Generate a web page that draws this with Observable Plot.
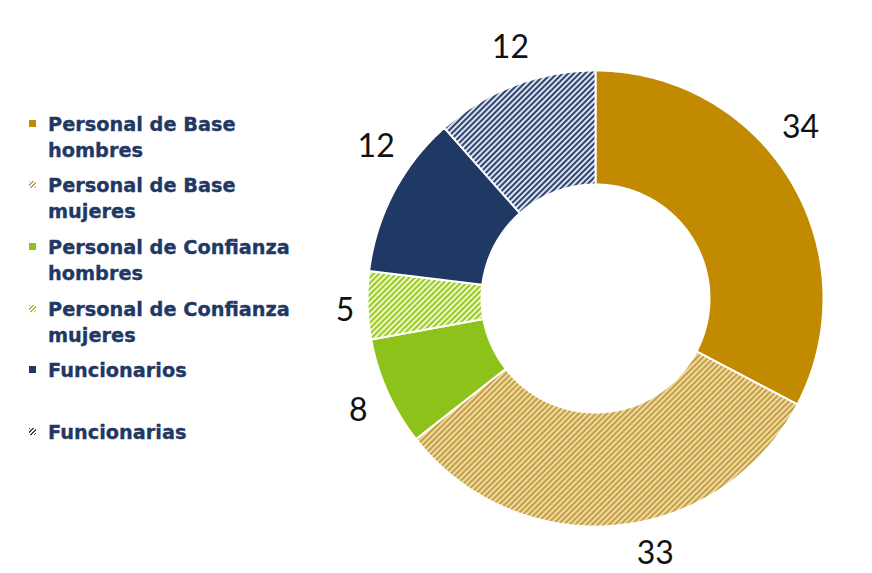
<!DOCTYPE html>
<html>
<head>
<meta charset="utf-8">
<script src="https://cdn.jsdelivr.net/npm/d3@7"></script>
<script src="https://cdn.jsdelivr.net/npm/@observablehq/plot@0.6"></script>
<style>
  html, body { margin: 0; padding: 0; background: #fff; }
  #wrap { position: relative; width: 872px; height: 573px; overflow: hidden; }
  #chart { position: absolute; left: 0; top: 0; }
  .item { position: absolute; left: 0; width: 320px; }
  .mk { position: absolute; left: 29px; top: 9px; width: 7px; height: 7px; }
  .txt { position: absolute; left: 48px; top: 0; font-family: "DejaVu Sans", Verdana, sans-serif; font-weight: bold;
         font-size: 20px; line-height: 26px; color: #1F3864; white-space: nowrap; transform: scaleX(0.965); transform-origin: 0 0;
         -webkit-text-stroke: 0.35px #1F3864; }
</style>
</head>
<body>
<div id="wrap"><div id="chart"></div><div id="legend"></div></div>
<script>
// ---- data ----
const categories = ["Personal de Base hombres", "Personal de Base mujeres", "Personal de Confianza hombres",
                    "Personal de Confianza mujeres", "Funcionarios", "Funcionarias"];
const values = [34, 33, 8, 5, 12, 12];
const legendLines = [["Personal de Base", "hombres"], ["Personal de Base", "mujeres"],
                     ["Personal de Confianza", "hombres"], ["Personal de Confianza", "mujeres"],
                     ["Funcionarios"], ["Funcionarias"]];

// ---- styles / layout ----
const solid = ["#C28A00", null, "#8CC21A", null, "#1F3864", null];
const hatch = [null, {bg: "#F0DB9E", fg: "#C49E48"}, null, {bg: "#EEF8C4", fg: "#9ACA28"}, null, {bg: "#DDE4F0", fg: "#2E4570"}];
const fills = categories.map((c, i) => solid[i] ?? `url(#hatch${i})`);
// label placement tweak relative to slice mid-angle: [angle shift in degrees, radius factor]
const labelNudge = [[-8.6, 1.17], [-8, 1.15], [-1, 1.15], [-1, 1.10], [7, 1.17], [2, 1.16]];

const R = 228, cx = 595, cy = 298, W = 872, H = 573;
const inner = 0.5;

const arcs = d3.pie().sort(null).value(d => d)(values);
const rows = [];
arcs.forEach((a, i) => {
  const n = Math.max(8, Math.ceil((a.endAngle - a.startAngle) / 0.01));
  const pts = [];
  for (let k = 0; k <= n; k++) { const t = a.startAngle + (a.endAngle - a.startAngle) * k / n; pts.push([Math.sin(t), Math.cos(t)]); }
  for (let k = n; k >= 0; k--) { const t = a.startAngle + (a.endAngle - a.startAngle) * k / n; pts.push([inner * Math.sin(t), inner * Math.cos(t)]); }
  pts.push(pts[0]);
  pts.forEach(([x, y]) => rows.push({cat: categories[i], x, y}));
});
const labels = arcs.map((a, i) => {
  const m = (a.startAngle + a.endAngle) / 2 + labelNudge[i][0] * Math.PI / 180, r = labelNudge[i][1];
  return {x: r * Math.sin(m), y: r * Math.cos(m), text: String(values[i])};
});

const svg = Plot.plot({
  width: W, height: H, margin: 0,
  x: {domain: [-cx / R, (W - cx) / R], axis: null},
  y: {domain: [-(H - cy) / R, cy / R], axis: null},
  color: {domain: categories, range: fills},
  marks: [
    Plot.line(rows, {x: "x", y: "y", z: "cat", fill: "cat", stroke: "white", strokeWidth: 2, curve: "linear"}),
    Plot.text(labels, {x: "x", y: "y", text: "text", fontSize: 32, fontFamily: "Lato, 'Liberation Sans', sans-serif", fill: "#111"})
  ]
});

// pattern defs
const ns = "http://www.w3.org/2000/svg";
const defs = document.createElementNS(ns, "defs");
hatch.forEach((h, i) => {
  if (!h) return;
  const p = document.createElementNS(ns, "pattern");
  p.setAttribute("id", `hatch${i}`);
  p.setAttribute("patternUnits", "userSpaceOnUse");
  p.setAttribute("width", 4); p.setAttribute("height", 4);
  p.setAttribute("patternTransform", "rotate(45)");
  const bg = document.createElementNS(ns, "rect");
  bg.setAttribute("width", 4); bg.setAttribute("height", 4); bg.setAttribute("fill", h.bg);
  const fg = document.createElementNS(ns, "rect");
  fg.setAttribute("width", 2); fg.setAttribute("height", 4); fg.setAttribute("fill", h.fg);
  p.appendChild(bg); p.appendChild(fg); defs.appendChild(p);
});
svg.insertBefore(defs, svg.firstChild);
document.getElementById("chart").appendChild(svg);

// legend
const leg = document.getElementById("legend");
legendLines.forEach((lines, i) => {
  const it = document.createElement("div");
  it.className = "item";
  it.style.top = (110.7 + 61.6 * i) + "px";
  const mk = document.createElement("div");
  mk.className = "mk";
  mk.style.background = solid[i] ? solid[i] :
    `repeating-linear-gradient(135deg, ${hatch[i].fg} 0 1.3px, #fff 1.3px 2.6px)`;
  const tx = document.createElement("div");
  tx.className = "txt";
  tx.innerHTML = lines.join("<br>");
  it.appendChild(mk); it.appendChild(tx); leg.appendChild(it);
});
</script>
</body>
</html>
